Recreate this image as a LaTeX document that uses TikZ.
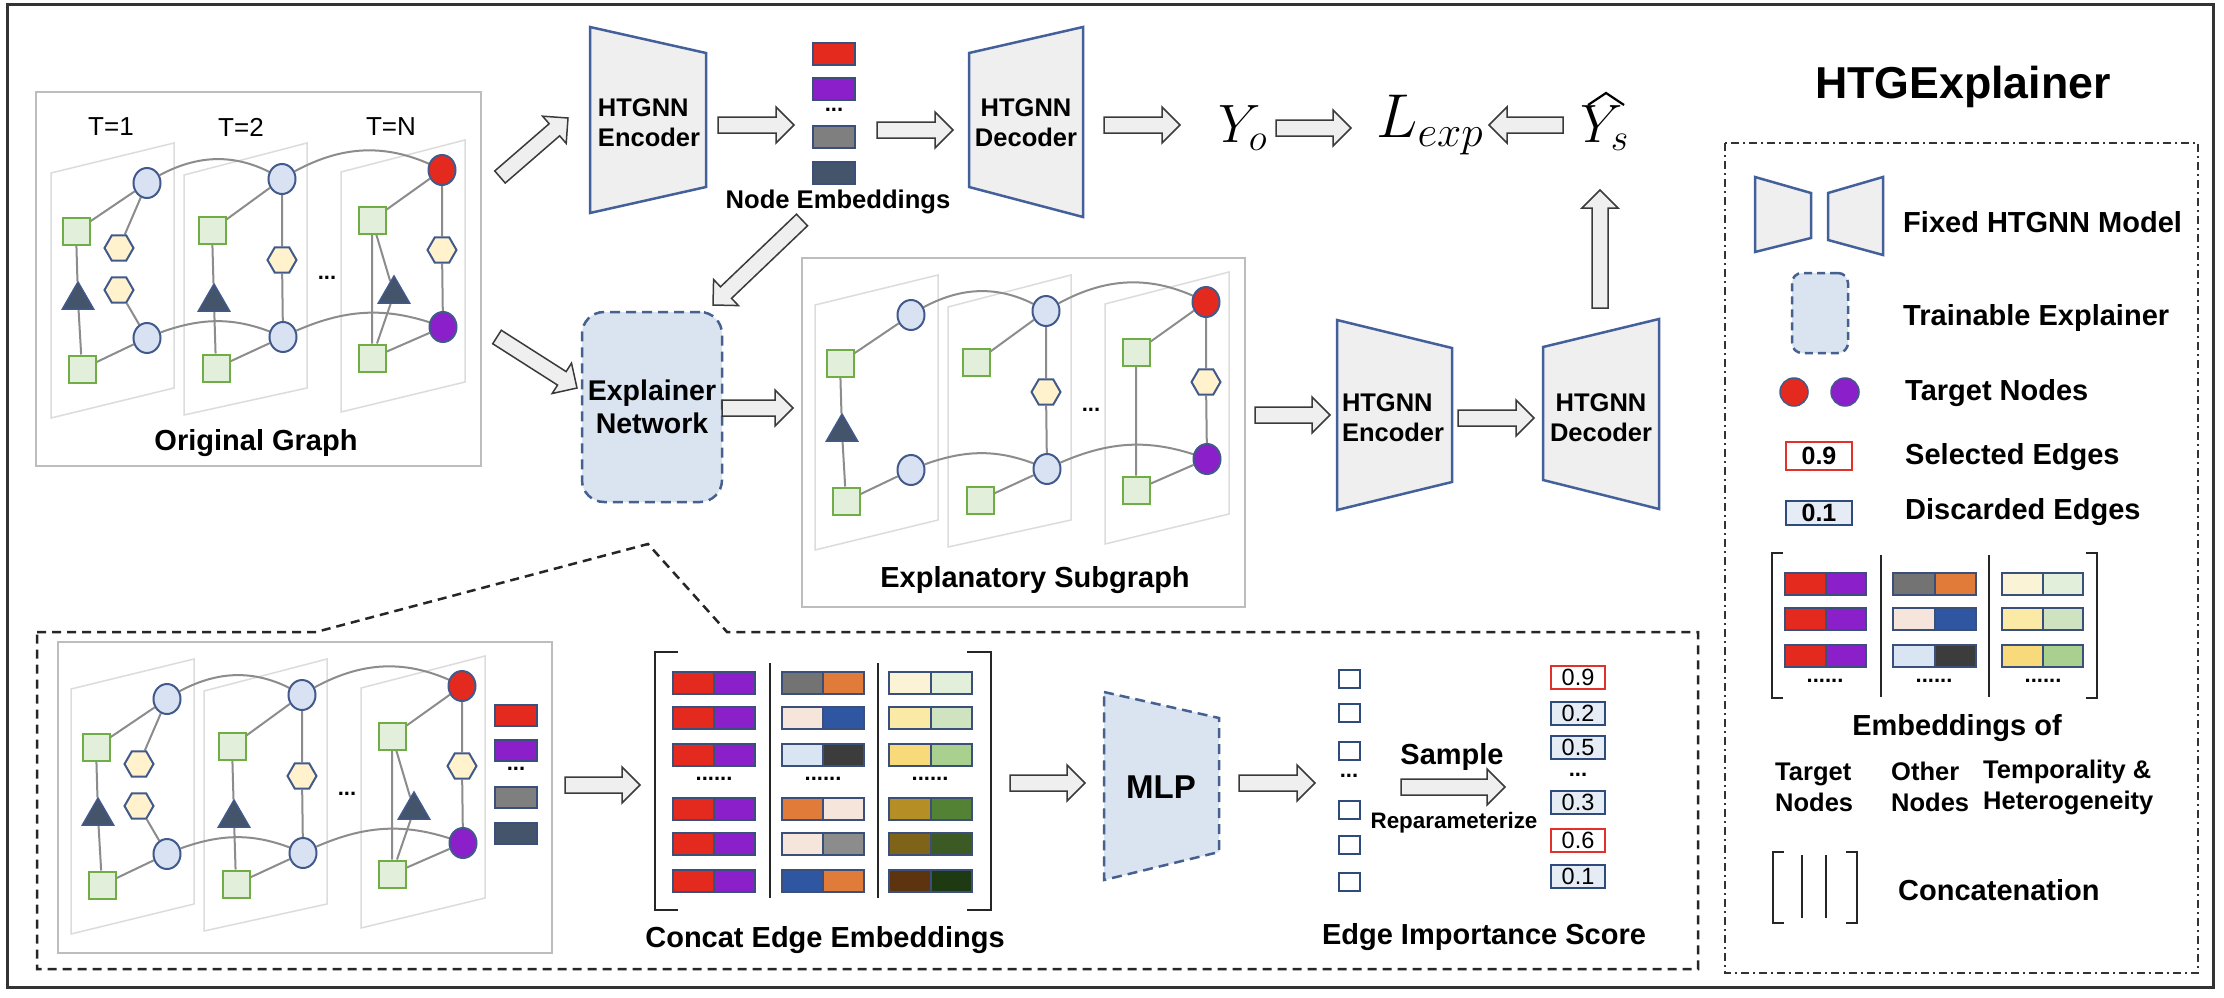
\RequirePackage{fix-cm}
\documentclass[tikz,border=0pt]{standalone}
\usepackage{fontspec}
\setmainfont{Liberation Sans}
\usetikzlibrary{calc,shapes.geometric}
\pgfdeclarelayer{bg}
\pgfsetlayers{bg,main}

\definecolor{cred}{HTML}{E42A1E}
\definecolor{cpur}{HTML}{8B1FC9}
\definecolor{cgray}{HTML}{737373}
\definecolor{cgraytwo}{HTML}{7F7F7F}
\definecolor{cslate}{HTML}{44546A}
\definecolor{corange}{HTML}{E07B39}
\definecolor{cbeige}{HTML}{F6E5DA}
\definecolor{cblue}{HTML}{2F56A0}
\definecolor{clblue}{HTML}{DAE5F3}
\definecolor{cdark}{HTML}{3C3C3C}
\definecolor{cmgray}{HTML}{8C8C8C}
\definecolor{ya}{HTML}{FBF3D5}\definecolor{ga}{HTML}{E2EFDA}
\definecolor{yb}{HTML}{FBE9A6}\definecolor{gb}{HTML}{CFE3C0}
\definecolor{yc}{HTML}{F8DA7B}\definecolor{gc}{HTML}{A9D08E}
\definecolor{yd}{HTML}{B58E25}\definecolor{gd}{HTML}{548235}
\definecolor{ye}{HTML}{7F6318}\definecolor{ge}{HTML}{3B5A24}
\definecolor{yf}{HTML}{5E3310}\definecolor{gf}{HTML}{1E3A13}
\definecolor{nodeb}{HTML}{41598B}
\definecolor{cfill}{HTML}{D9E2F3}
\definecolor{sqf}{HTML}{E2EFDA}
\definecolor{sqb}{HTML}{70AD47}
\definecolor{hexf}{HTML}{FFF2CC}
\definecolor{trif}{HTML}{44546A}
\definecolor{edgec}{HTML}{8C8C8C}
\definecolor{planec}{HTML}{DCDCDC}
\definecolor{boxc}{HTML}{BDBDBD}
\definecolor{encf}{HTML}{EFEFEF}
\definecolor{encb}{HTML}{44609A}
\definecolor{expf}{HTML}{DAE3F0}
\definecolor{expb}{HTML}{46608F}
\definecolor{arrf}{HTML}{EFEFEF}
\definecolor{arrl}{HTML}{3A3A3A}
\definecolor{barcol}{HTML}{3A4F7A}
\definecolor{scb}{HTML}{2F4B7C}
\definecolor{scr}{HTML}{E0312A}
\definecolor{scf}{HTML}{E6ECF5}

\def\bsw{8pt}\def\bhw{18pt}\def\bhl{18pt}
\newcommand{\barrow}[2]{%
 \draw[barrowst] let \p1=(#1), \p2=(#2), \n1={atan2(\y2-\y1,\x2-\x1)} in
 ($(\p1)+(\n1+90:\bsw)$) -- ($(\p2)+(\n1+180:\bhl)+(\n1+90:\bsw)$) -- ($(\p2)+(\n1+180:\bhl)+(\n1+90:\bhw)$) -- (\p2) -- ($(\p2)+(\n1+180:\bhl)+(\n1-90:\bhw)$) -- ($(\p2)+(\n1+180:\bhl)+(\n1-90:\bsw)$) -- ($(\p1)+(\n1-90:\bsw)$) -- cycle;}

\newcommand{\ebar}[5]{%
 \fill[#4] (#1,#2) rectangle ({#1+#3/2},{#2+22});
 \fill[#5] ({#1+#3/2},#2) rectangle ({#1+#3},{#2+22});
 \draw[barb] (#1,#2) rectangle ({#1+#3},{#2+22});
 \draw[barb] ({#1+#3/2},#2) -- ({#1+#3/2},{#2+22});}

\newcommand{\tgraph}[3]{%
\begin{scope}[shift={#2},name prefix=#1-]
\begin{pgfonlayer}{bg}
\draw[plane] (-96,-10)--(27,-40)--(27,205)--(-96,235)--cycle;
\draw[plane] (37,-8)--(160,-40)--(160,205)--(37,232)--cycle;
\draw[plane] (194,-11)--(318,-43)--(318,199)--(194,229)--cycle;
\end{pgfonlayer}
\node[cnode] (c1) at (0,0) {};
\node[snode] (s1) at (-71,48) {};
\node[tnode] (t1) at (-69,117) {};
\node[cnode] (b1) at (0,155) {};
\node[snode] (q1) at (-65,186) {};
\node[cnode] (c2) at (135,-4) {};
\node[snode] (s2) at (65,47) {};
\node[hnode] (h2) at (135,77) {};
\node[cnode] (b2) at (136,154) {};
\node[snode] (q2) at (69,185) {};
\node[dotn] (dd) at (180,95) {...};
\node[cnode, fill=cred, draw=nodeb] (r3) at (295,-13) {};
\node[snode] (s3) at (225,37) {};
\node[hnode] (h3) at (295,67) {};
\node[cnode, fill=cpur, draw=nodeb] (p3) at (296,144) {};
\node[snode] (q3) at (225,175) {};
\ifnum#3=1
\node[hnode] (ha) at (-28,65) {};
\node[hnode] (hb) at (-28,107) {};
\node[tnode] (t2) at (67,119) {};
\node[tnode] (t3) at (247,111) {};
\fi
\begin{pgfonlayer}{bg}
\draw[edge] (s1)--(c1) (s1)--(t1) (t1)--(q1) (q1)--(b1) (s2)--(c2) (c2)--(h2) (h2)--(b2) (q2)--(b2) (s3)--(r3) (r3)--(h3) (h3)--(p3) (s3)--(q3) (q3)--(p3);
\draw[edge] (c1) to[bend left=30] (c2) (c2) to[bend left=28] (r3) (b1) to[bend left=22] (b2) (b2) to[bend left=22] (p3);
\ifnum#3=1
\draw[edge] (c1)--(ha) (hb)--(b1) (s2)--(t2) (t2)--(q2) (s3)--(t3) (t3)--(q3);
\fi
\end{pgfonlayer}
\end{scope}}

\begin{document}
\begin{tikzpicture}[x=1pt,y=-1pt,
 cnode/.style={ellipse, draw=nodeb, fill=cfill, line width=2pt, minimum width=27pt, minimum height=30pt, inner sep=0pt},
 snode/.style={rectangle, draw=sqb, fill=sqf, line width=2pt, minimum size=27pt, inner sep=0pt},
 hnode/.style={regular polygon, regular polygon sides=6, draw=nodeb, fill=hexf, line width=2pt, minimum size=29pt, inner sep=0pt},
 tnode/.style={regular polygon, regular polygon sides=3, draw=nodeb, fill=trif, line width=1.5pt, minimum size=36pt, inner sep=0pt},
 dotn/.style={font=\fontsize{22}{22}\selectfont\bfseries, inner sep=0pt},
 edge/.style={draw=edgec, line width=2pt},
 plane/.style={draw=planec, line width=1.5pt},
 gbox/.style={draw=boxc, line width=2.5pt},
 enc/.style={draw=encb, fill=encf, line width=2.5pt, line join=miter},
 barrowst/.style={draw=arrl, fill=arrf, line width=1.5pt, line join=miter},
 barb/.style={draw=barcol, line width=2pt},
 lab/.style={font=\fontsize{29}{34}\selectfont\bfseries, inner sep=0pt},
 enctxt/.style={font=\fontsize{25.5}{30}\selectfont\bfseries, inner sep=0pt},
 mathn/.style={font=\fontsize{54}{60}\selectfont, inner sep=0pt},
 score/.style={draw=scb, fill=scf, line width=2pt, minimum width=54pt, minimum height=23pt, inner sep=0pt, font=\fontsize{23.5}{24}\selectfont},
 sq/.style={draw=scb, fill=white, line width=2pt, minimum width=21pt, minimum height=18pt, inner sep=0pt},
 brk/.style={draw=black!85, line width=2.5pt},
 dregion/.style={draw=black!85, line width=2.5pt, dash pattern=on 9pt off 6pt},
 legbox/.style={draw=black!80, line width=2pt, dash pattern=on 8pt off 4pt on 2pt off 4pt}
]
\useasboundingbox (0,0) rectangle (2224,998);
\begin{pgfonlayer}{bg}
\fill[white] (0,0) rectangle (2224,998);
\end{pgfonlayer}
\draw[line width=3pt, draw=black!80] (7,5) rectangle (2213,987);

% ---------- dashed zoom region
\draw[dregion] (37,632) -- (316,632) -- (648,544) -- (727,632) -- (1698,632) -- (1698,969) -- (37,969) -- cycle;

% ---------- original graph
\draw[gbox] (36,92) rectangle (481,466);
\node[font=\fontsize{26}{26}\selectfont, inner sep=0pt] (tl1) at (111,127) {T=1};
\node[font=\fontsize{26}{26}\selectfont, inner sep=0pt] (tl2) at (241,127) {T=2};
\node[font=\fontsize{26}{26}\selectfont, inner sep=0pt] (tl3) at (391,127) {T=N};
\tgraph{og}{(147,183)}{1}
\node[lab] (oglab) at (256,443) {Original Graph};

% ---------- upper encoder / decoder
\draw[enc] (590,27)--(706,53)--(706,187)--(590,213)--cycle;
\node[enctxt, align=left] (encU) at (649,123) {HTGNN\\Encoder};
\foreach \yy/\cc in {43/cred,78/cpur,126/cgraytwo,162/cslate}{
 \fill[\cc] (813,\yy) rectangle (855,\yy+22);
 \draw[barb] (813,\yy) rectangle (855,\yy+22);}
\node[dotn] (embdots) at (834,110) {...};
\node[font=\fontsize{25.6}{30}\selectfont\bfseries, inner sep=0pt] (nodeemb) at (838,202) {Node Embeddings};
\draw[enc] (969,53)--(1083,27)--(1083,217)--(969,187)--cycle;
\node[enctxt, align=center] (decU) at (1026,123) {HTGNN\\Decoder};

\node[mathn, anchor=base west] (yo) at (1218,142) {$Y_o$};
\node[mathn, font=\fontsize{62}{66}\selectfont, anchor=base west] (lexp) at (1376,137) {$L_{exp}$};
\node[mathn, anchor=base west] (ys) at (1580,142) {$Y_s$};
\draw[line width=2.2pt, line join=miter] (1588,105) -- (1606,93) -- (1624,105);

% ---------- explainer + explanatory subgraph
\node[draw=expb, fill=expf, line width=2.5pt, dash pattern=on 10pt off 6pt, rounded corners=22pt, minimum width=140pt, minimum height=190pt, align=center, font=\fontsize{28.5}{33}\selectfont\bfseries] (expl) at (652,407) {Explainer\\Network};

\draw[gbox] (802,258) rectangle (1245,607);
\tgraph{eg}{(911,315)}{0}
\node[lab] (eglab) at (1035,580) {Explanatory Subgraph};

\draw[enc] (1337,320)--(1452,348)--(1452,482)--(1337,510)--cycle;
\node[enctxt, align=left] (encL) at (1393,418) {HTGNN\\Encoder};
\draw[enc] (1543,347)--(1659,319)--(1659,509)--(1543,480)--cycle;
\node[enctxt, align=center] (decL) at (1601,418) {HTGNN\\Decoder};

% ---------- bottom detail
\draw[gbox] (58,642) rectangle (552,953);
\tgraph{bg}{(167,699)}{1}
\foreach \yy/\cc in {705/cred,740/cpur,787/cgraytwo,823/cslate}{
 \fill[\cc] (495,\yy) rectangle (537,\yy+21);
 \draw[barb] (495,\yy) rectangle (537,\yy+21);}
\node[dotn] (bdots) at (516,769) {...};

% concat matrix
\draw[brk] (678,652) -- (655,652) -- (655,910) -- (678,910);
\draw[brk] (967,652) -- (991,652) -- (991,910) -- (967,910);
\draw[brk] (770,663) -- (770,898);
\draw[brk] (878,663) -- (878,898);
\foreach \yy in {672,707,744,798,833,870}{\ebar{673}{\yy}{82}{cred}{cpur}}
\ebar{782}{672}{82}{cgray}{corange}
\ebar{782}{707}{82}{cbeige}{cblue}
\ebar{782}{744}{82}{clblue}{cdark}
\ebar{782}{798}{82}{corange}{cbeige}
\ebar{782}{833}{82}{cbeige}{cmgray}
\ebar{782}{870}{82}{cblue}{corange}
\ebar{889}{672}{83}{ya}{ga}
\ebar{889}{707}{83}{yb}{gb}
\ebar{889}{744}{83}{yc}{gc}
\ebar{889}{798}{83}{yd}{gd}
\ebar{889}{833}{83}{ye}{ge}
\ebar{889}{870}{83}{yf}{gf}
\node[dotn] (md1) at (714,779) {......};
\node[dotn] (md2) at (823,779) {......};
\node[dotn] (md3) at (930,779) {......};
\node[lab] (cclab) at (825,940) {Concat Edge Embeddings};

% MLP
\draw[draw=expb, fill=expf, line width=2.5pt, dash pattern=on 10pt off 6pt] (1104,692)--(1219,718)--(1219,852)--(1104,880)--cycle;
\node[font=\fontsize{33}{33}\selectfont\bfseries, inner sep=0pt] (mlp) at (1161,787) {MLP};

% small squares
\node[sq] (e1) at (1349,679) {};
\node[sq] (e2) at (1349,713) {};
\node[sq] (e3) at (1349,751) {};
\node[dotn] (edots) at (1349,776) {...};
\node[sq] (e4) at (1349,810) {};
\node[sq] (e5) at (1349,845) {};
\node[sq] (e6) at (1349,882) {};

\node[lab] (samp) at (1452,757) {Sample};
\node[font=\fontsize{22.4}{24}\selectfont\bfseries, inner sep=0pt] (repa) at (1454,823) {Reparameterize};

\node[score, draw=scr, fill=white] (sc1) at (1578,677) {0.9};
\node[score] (sc2) at (1578,713) {0.2};
\node[score] (sc3) at (1578,747) {0.5};
\node[dotn] (scdots) at (1578,775) {...};
\node[score] (sc4) at (1578,802) {0.3};
\node[score, draw=scr, fill=white] (sc5) at (1578,840) {0.6};
\node[score] (sc6) at (1578,876) {0.1};
\node[lab] (eilab) at (1484,937) {Edge Importance Score};

% ---------- legend
\node[font=\fontsize{44.7}{50}\selectfont\bfseries, inner sep=0pt] (title) at (1963,87) {HTGExplainer};
\draw[legbox] (1725,143) rectangle (2198,973);
\draw[enc] (1755,177)--(1811,193)--(1811,238)--(1755,252)--cycle;
\draw[enc] (1828,193)--(1883,177)--(1883,255)--(1828,240)--cycle;
\node[lab, anchor=west] (lg1) at (1903,222) {Fixed HTGNN Model};
\node[draw=expb, fill=expf, line width=2.5pt, dash pattern=on 8pt off 5pt, rounded corners=10pt, minimum width=56pt, minimum height=80pt] (lg2i) at (1820,313) {};
\node[lab, anchor=west] (lg2) at (1903,318) {Trainable Explainer};
\node[circle, fill=cred, draw=nodeb, line width=1.5pt, minimum size=28pt, inner sep=0pt] (lg3a) at (1794,392) {};
\node[circle, fill=cpur, draw=nodeb, line width=1.5pt, minimum size=28pt, inner sep=0pt] (lg3b) at (1845,392) {};
\node[lab, anchor=west] (lg3) at (1905,393) {Target Nodes};
\node[draw=scr, fill=white, line width=2pt, minimum width=66pt, minimum height=28pt, inner sep=0pt, font=\fontsize{25}{25}\selectfont\bfseries] (lg4i) at (1819,456) {0.9};
\node[lab, anchor=west] (lg4) at (1905,457) {Selected Edges};
\node[draw=scb, fill=scf, line width=2pt, minimum width=66pt, minimum height=24pt, inner sep=0pt, font=\fontsize{25}{25}\selectfont\bfseries] (lg5i) at (1819,513) {0.1};
\node[lab, anchor=west] (lg5) at (1905,512) {Discarded Edges};

\draw[brk] (1783,553) -- (1772,553) -- (1772,698) -- (1783,698);
\draw[brk] (2086,553) -- (2097,553) -- (2097,698) -- (2086,698);
\draw[brk] (1881,555) -- (1881,697);
\draw[brk] (1989,555) -- (1989,697);
\foreach \yy in {573,608,645}{\ebar{1785}{\yy}{81}{cred}{cpur}}
\ebar{1893}{573}{83}{cgray}{corange}
\ebar{1893}{608}{83}{cbeige}{cblue}
\ebar{1893}{645}{83}{clblue}{cdark}
\ebar{2002}{573}{81}{ya}{ga}
\ebar{2002}{608}{81}{yb}{gb}
\ebar{2002}{645}{81}{yc}{gc}
\node[dotn] (ld1) at (1825,681) {......};
\node[dotn] (ld2) at (1934,681) {......};
\node[dotn] (ld3) at (2043,681) {......};
\node[lab] (embof) at (1957,728) {Embeddings of};
\node[font=\fontsize{25.5}{31}\selectfont\bfseries, inner sep=0pt, align=left, anchor=west] (lt1) at (1775,787) {Target\\Nodes};
\node[font=\fontsize{25.5}{31}\selectfont\bfseries, inner sep=0pt, align=left, anchor=west] (lt2) at (1891,787) {Other\\Nodes};
\node[font=\fontsize{25.5}{31}\selectfont\bfseries, inner sep=0pt, align=left, anchor=west] (lt3) at (1983,787) {Temporality \&\\Heterogeneity};

\draw[brk] (1784,852) -- (1773,852) -- (1773,923) -- (1784,923);
\draw[brk] (1846,852) -- (1857,852) -- (1857,923) -- (1846,923);
\draw[brk] (1802,855) -- (1802,918);
\draw[brk] (1826,855) -- (1826,918);
\node[lab, anchor=west] (lg6) at (1898,890) {Concatenation};

% ---------- block arrows
\coordinate (a1s) at (500,177); \coordinate (a1e) at (568,118);
\coordinate (a2s) at (497,337); \coordinate (a2e) at (577,388);
\coordinate (a3s) at (718,125); \coordinate (a3e) at (794,125);
\coordinate (a4s) at (877,130); \coordinate (a4e) at (953,130);
\coordinate (a5s) at (1104,125); \coordinate (a5e) at (1180,125);
\coordinate (a6s) at (1276,128); \coordinate (a6e) at (1351,128);
\coordinate (a7s) at (1563,125); \coordinate (a7e) at (1489,125);
\coordinate (a8s) at (1600,308); \coordinate (a8e) at (1600,190);
\coordinate (a9s) at (802,220); \coordinate (a9e) at (713,305);
\coordinate (a10s) at (722,408); \coordinate (a10e) at (793,408);
\coordinate (a11s) at (1255,415); \coordinate (a11e) at (1330,415);
\coordinate (a12s) at (1458,418); \coordinate (a12e) at (1534,418);
\coordinate (a13s) at (565,785); \coordinate (a13e) at (640,785);
\coordinate (a14s) at (1010,783); \coordinate (a14e) at (1085,783);
\coordinate (a15s) at (1239,783); \coordinate (a15e) at (1315,783);
\coordinate (a16s) at (1401,787); \coordinate (a16e) at (1505,787);
\foreach \i in {1,...,16}{\barrow{a\i s}{a\i e}}
\end{tikzpicture}
\end{document}
